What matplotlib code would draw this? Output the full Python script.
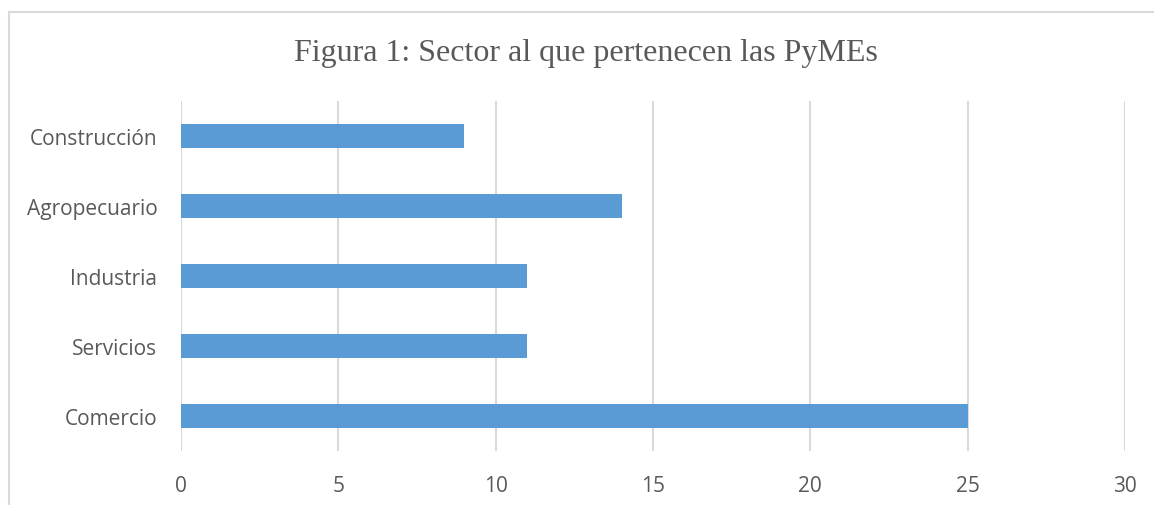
import matplotlib.pyplot as plt
from matplotlib.patches import Rectangle

# Data
sectores = ['Comercio', 'Servicios', 'Industria', 'Agropecuario', 'Construcción']
cantidades = [25, 11, 11, 14, 9]
x_ticks = [0, 5, 10, 15, 20, 25, 30]

text_color = '#595959'
bar_color = '#5B9BD5'
grid_color = '#D9D9D9'

fig = plt.figure(figsize=(11.54, 5.06), dpi=100)
ax = fig.add_axes([181 / 1154, 1 - 452 / 506, 944 / 1154, 350 / 506])

ax.barh(sectores, cantidades, height=0.35, color=bar_color, zorder=3)

ax.set_xlim(0, 30)
ax.set_ylim(-0.5, len(sectores) - 0.5)
ax.set_xticks(x_ticks)
ax.grid(axis='x', color=grid_color, linewidth=1.5, zorder=0)
ax.set_axisbelow(True)

for s in ax.spines.values():
    s.set_visible(False)

ax.tick_params(axis='both', length=0, colors=text_color, labelsize=15)
ax.tick_params(axis='y', pad=17)
ax.tick_params(axis='x', pad=17)
for lbl in ax.get_xticklabels() + ax.get_yticklabels():
    lbl.set_fontfamily('Open Sans')

fig.text(586 / 1154, 1 - 53 / 506, 'Figura 1: Sector al que pertenecen las PyMEs',
         ha='center', va='center', fontsize=23, color=text_color,
         family='Liberation Serif')

# chart border (partially cut off in the original)
fig.patches.append(Rectangle((8.5 / 1154, -0.1), 1.2, 1 - 12.5 / 506 + 0.1,
                             transform=fig.transFigure, fill=False,
                             edgecolor=grid_color, linewidth=1.5))

fig.savefig('out.png', dpi=100)
